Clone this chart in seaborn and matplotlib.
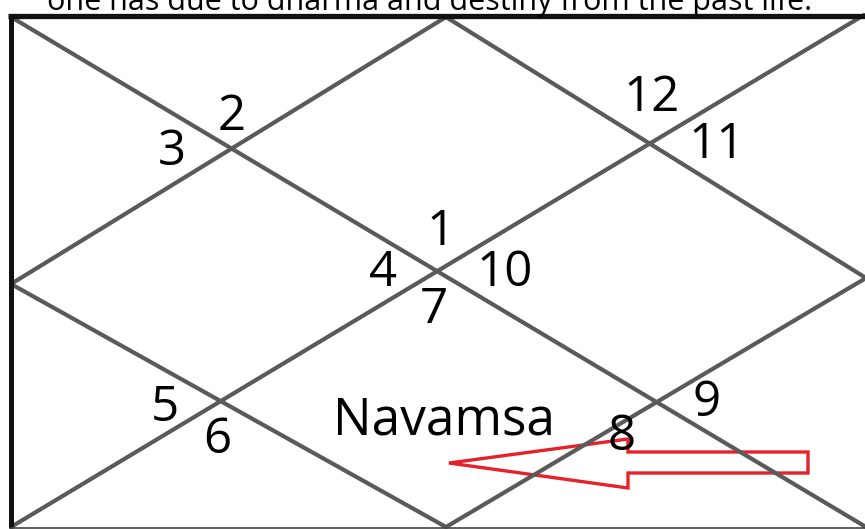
import numpy as np
import pandas as pd
import seaborn as sns
import matplotlib.pyplot as plt

# chart frame (pixel space of the original picture, y grows downward)
diamond_x = [446, 866, 446, 11, 446]
diamond_y = [17, 278, 527, 284, 17]
diag1_x = [11, 866]
diag1_y = [17, 527]
diag2_x = [11, 864]
diag2_y = [527, 15]

houses = ["1", "2", "3", "4", "5", "6", "7", "8", "9", "10", "11", "12"]
house_x = [441, 232, 172, 383, 165, 217, 434, 622, 707, 505, 717, 652]
house_y = [232, 117, 152, 273, 408, 440, 310, 437, 403, 273, 145, 98]

chart_label = "Navamsa"
caption = "one has due to dharma and destiny from the past life."

arrow_x = [449, 628, 628, 808, 808, 628, 628, 449]
arrow_y = [463, 439, 452, 452, 473, 473, 488, 463]

sns.set_style("white")
plt.rcParams["font.family"] = ["Open Sans", "DejaVu Sans"]

segs = []
for k, (xs, ys) in enumerate([(diamond_x, diamond_y), (diag1_x, diag1_y), (diag2_x, diag2_y)]):
    for x, y in zip(xs, ys):
        segs.append({"seg": k, "x": x, "y": y})
df = pd.DataFrame(segs)

fig = plt.figure(figsize=(8.65, 5.29), dpi=100)
ax = fig.add_axes([0, 0, 1, 1])

sns.lineplot(data=df, x="x", y="y", units="seg", estimator=None, sort=False,
             color="#5a5a5a", linewidth=3.0, ax=ax, solid_capstyle="round")

# frame edges
ax.plot([8, 866], [16, 16], color="#111111", lw=3.8, solid_capstyle="butt")
ax.plot([11, 11], [14, 528], color="#111111", lw=3.6, solid_capstyle="butt")
ax.plot([11, 866], [527.5, 527.5], color="#444444", lw=1.2)

for h, x, y in zip(houses, house_x, house_y):
    ax.text(x, y, h, fontsize=35.5, ha="center", va="center", color="black")

ax.text(444, 421, chart_label, fontsize=37, ha="center", va="center", color="black")
ax.text(430, 10, caption, fontsize=22, ha="center", va="baseline", color="black")

ax.fill(arrow_x, arrow_y, facecolor="none", edgecolor="#e8202a", linewidth=2.4,
        joinstyle="miter")

ax.set_xlim(0, 865)
ax.set_ylim(529, 0)
ax.axis("off")

fig.savefig("out.png", dpi=100)
plt.close(fig)
